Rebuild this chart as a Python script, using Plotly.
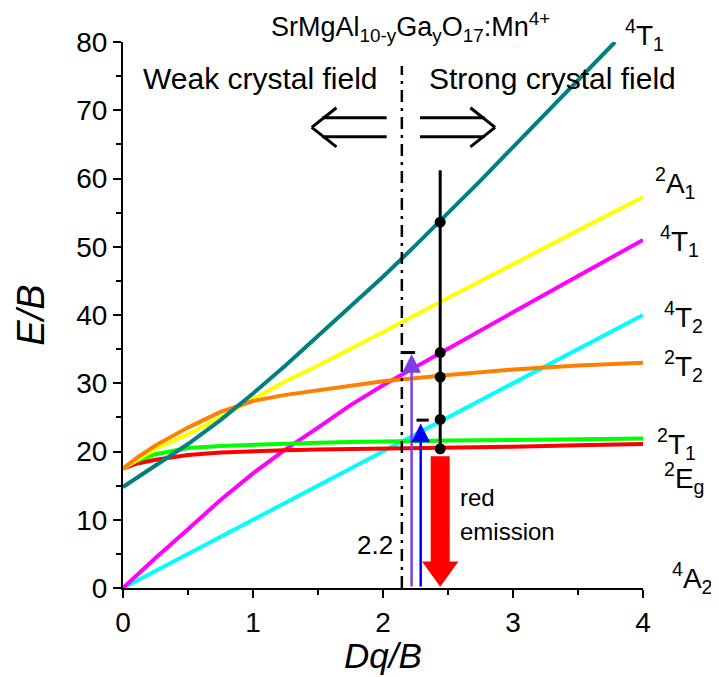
import plotly.graph_objects as go

# ---------------- data ----------------
dq = [0, 0.1, 0.25, 0.5, 0.75, 1, 1.25, 1.5, 1.75, 2, 2.5, 3, 3.5, 4]
e_2A1 = [17.5, 18.7, 20.4, 22.5, 25.0, 27.7, 30.3, 32.6, 35.0, 37.5, 42.5, 47.5, 52.4, 57.3]
e_4T1a = [0, 1.8, 4.4, 8.6, 12.9, 16.8, 20.3, 23.5, 26.8, 29.7, 35.1, 40.4, 45.7, 51.0]
e_4T2 = [0, 1, 2.5, 5, 7.5, 10, 12.5, 15, 17.5, 20, 25, 30, 35, 40]
e_2T2 = [17.5, 19.0, 20.9, 23.5, 25.8, 27.4, 28.3, 29.0, 29.6, 30.3, 31.2, 32.0, 32.6, 33.0]
e_2T1 = [17.5, 18.6, 19.6, 20.5, 20.8, 21.0, 21.1, 21.3, 21.4, 21.5, 21.6, 21.7, 21.8, 21.9]
e_2E = [17.5, 18.2, 18.8, 19.5, 19.85, 20.05, 20.2, 20.3, 20.35, 20.4, 20.5, 20.7, 20.9, 21.1]

dq_4T1b = [0, 0.25, 0.5, 0.75, 1, 1.25, 1.5, 1.75, 2, 2.25, 2.5, 2.75, 3, 3.25, 3.5, 3.785]
e_4T1b = [14.8, 17.9, 21.1, 24.6, 28.5, 32.6, 36.9, 41.2, 45.6, 50.2, 54.9, 59.7, 64.6, 69.5, 74.4, 80]

dq_sample = 2.44                      # Mn4+ position
levels_sample = [20.4, 24.7, 30.9, 34.5, 53.6]
sample_line_top = 61.2
dq_boundary = 2.145                   # crossover line (labelled 2.2)
boundary_top = 76.5
exc_purple_dq, exc_purple_e = 2.22, 34.5
exc_blue_dq, exc_blue_e = 2.29, 24.6
emis_top, emis_bottom = 19.3, 0.2

state_labels = ["<sup>4</sup>T<sub>1</sub>", "<sup>2</sup>A<sub>1</sub>", "<sup>4</sup>T<sub>1</sub>",
                "<sup>4</sup>T<sub>2</sub>", "<sup>2</sup>T<sub>2</sub>", "<sup>2</sup>T<sub>1</sub>",
                "<sup>2</sup>E<sub>g</sub>", "<sup>4</sup>A<sub>2</sub>"]
label_x = [3.846, 4.077, 4.115, 4.146, 4.146, 4.09, 4.146, 4.21]
label_y = [81.0, 59.3, 50.8, 39.7, 32.5, 21.1, 16.1, 1.5]

X_MAX, Y_MAX = 4, 80
FONT = "Liberation Sans, Arial, sans-serif"

def px(x):
    return x / X_MAX

def py(y):
    return y / Y_MAX

fig = go.Figure()

def curve(x, y, color):
    fig.add_trace(go.Scatter(x=x, y=y, mode="lines", line=dict(color=color, width=4),
                             showlegend=False, hoverinfo="skip", cliponaxis=False))

curve(dq, e_4T2, "#00FFFF")
curve(dq, e_4T1a, "#FF00FF")
curve(dq, e_2E, "#FF0000")
curve(dq, e_2T1, "#00FF00")
curve(dq, e_2A1, "#FFFF00")
curve(dq, e_2T2, "#FF8000")
curve(dq_4T1b, e_4T1b, "#008080")

# boundary dash-dot line
fig.add_trace(go.Scatter(x=[dq_boundary, dq_boundary], y=[0, boundary_top], mode="lines",
                         line=dict(color="black", width=2.5, dash="12px,6px,3px,6px"),
                         showlegend=False, hoverinfo="skip"))

# sample vertical line with level dots
fig.add_trace(go.Scatter(x=[dq_sample, dq_sample], y=[levels_sample[0], sample_line_top], mode="lines",
                         line=dict(color="black", width=3), showlegend=False, hoverinfo="skip"))
fig.add_trace(go.Scatter(x=[dq_sample] * len(levels_sample), y=levels_sample, mode="markers",
                         marker=dict(color="black", size=11), showlegend=False, hoverinfo="skip"))

# cap bars at excitation arrows
cap_half = 0.047
for xc, yc in [(exc_purple_dq - 0.02, exc_purple_e), (exc_blue_dq + 0.015, exc_blue_e)]:
    fig.add_trace(go.Scatter(x=[xc - cap_half, xc + cap_half], y=[yc, yc], mode="lines",
                             line=dict(color="black", width=3), showlegend=False, hoverinfo="skip"))

# red emission arrow (filled polygon)
sh, hh, hl = 0.073, 0.14, 3.7
xe = dq_sample
ax_ = [xe - sh, xe + sh, xe + sh, xe + hh, xe, xe - hh, xe - sh, xe - sh]
ay_ = [emis_top, emis_top, emis_bottom + hl, emis_bottom + hl, emis_bottom, emis_bottom + hl, emis_bottom + hl, emis_top]
fig.add_trace(go.Scatter(x=ax_, y=ay_, mode="lines", fill="toself", fillcolor="#FF0000",
                         line=dict(color="#FF0000", width=0), showlegend=False, hoverinfo="skip"))

annotations = []
# excitation arrows
for xa, ya, col in [(exc_purple_dq, exc_purple_e - 0.2, "#7F3FE0"), (exc_blue_dq, exc_blue_e - 0.5, "#0000FF")]:
    annotations.append(dict(x=xa, y=ya, ax=xa, ay=0, xref="x", yref="y", axref="x", ayref="y",
                            showarrow=True, arrowhead=2, arrowsize=1.5, arrowwidth=2.5,
                            arrowcolor=col, text="", standoff=0))

def text(x, y, t, size, xanchor="center"):
    return dict(x=px(x), y=py(y), xref="paper", yref="paper", text=t, showarrow=False,
                xanchor=xanchor, yanchor="middle", font=dict(family=FONT, size=size, color="black"))

# state labels (paper coords so they can sit outside the axes)
for t, x, y in zip(state_labels, label_x, label_y):
    annotations.append(text(x, y, t, 28, "left"))

annotations += [
    text(2.21, 82.2, "SrMgAl<sub>10-y</sub>Ga<sub>y</sub>O<sub>17</sub>:Mn<sup>4+</sup>", 27),
    text(1.054, 74.7, "Weak crystal field", 30),
    text(3.3, 74.7, "Strong crystal field", 30),
    text(1.94, 6.3, "2.2", 26),
    text(2.58, 13.3, "red", 24, "left"),
    text(2.58, 8.3, "emission", 24, "left"),
    text(2.0, -9.9, "<i>Dq/B</i>", 35),
]

# hollow double arrows
def hollow_arrow(tail, tip, yc):
    gap, arm_dx, arm_dy = 1.4, 0.19, 2.86
    d = 1 if tip > tail else -1
    shapes = []
    for s in (1, -1):
        shapes.append(dict(type="line", xref="x", yref="y", x0=tail, x1=tip - d * 0.08,
                           y0=yc + s * gap, y1=yc + s * gap, line=dict(color="black", width=3)))
        shapes.append(dict(type="line", xref="x", yref="y", x0=tip, y0=yc,
                           x1=tip - d * arm_dx, y1=yc + s * arm_dy, line=dict(color="black", width=3)))
    return shapes

shapes = hollow_arrow(2.028, 1.452, 67.5) + hollow_arrow(2.285, 2.862, 67.5)

axis_common = dict(showline=True, linecolor="black", linewidth=2, ticks="outside", ticklen=8,
                   tickwidth=2, tickcolor="black", showgrid=False, zeroline=False, mirror=False,
                   tickfont=dict(family=FONT, size=28, color="black"))

fig.update_layout(
    width=719, height=677,
    margin=dict(l=115, r=84, t=34, b=97, autoexpand=False),
    paper_bgcolor="white", plot_bgcolor="white",
    xaxis=dict(range=[0, X_MAX], tickvals=[0, 1, 2, 3, 4],
               minor=dict(dtick=0.5, ticks="outside", ticklen=5, tickwidth=2, tickcolor="black"),
               **axis_common),
    yaxis=dict(range=[0, Y_MAX], tickvals=[0, 10, 20, 30, 40, 50, 60, 70, 80],
               minor=dict(dtick=5, ticks="outside", ticklen=5, tickwidth=2, tickcolor="black"),
               title=dict(text="<i>E/B</i>", font=dict(family=FONT, size=38, color="black"), standoff=20),
               **axis_common),
    annotations=annotations,
    shapes=shapes,
)

fig.write_html("out.html")
